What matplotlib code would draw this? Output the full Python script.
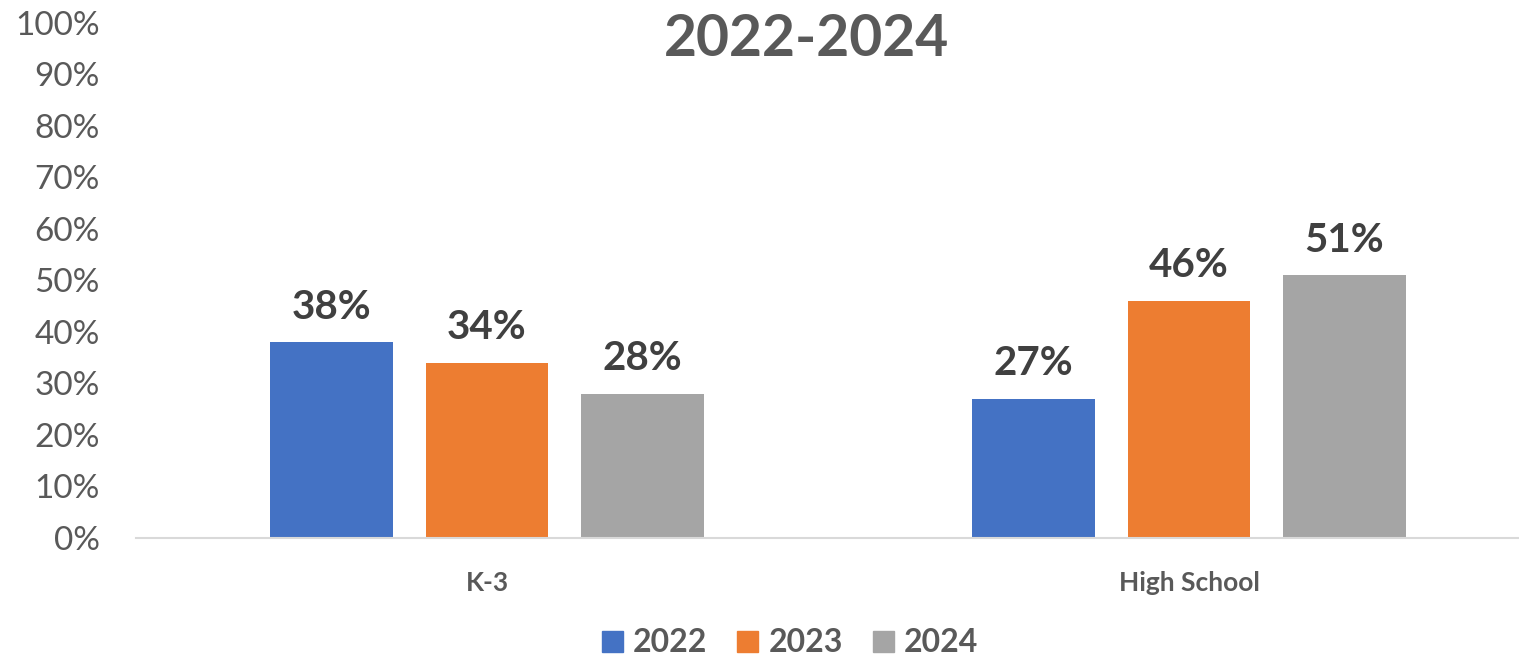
import numpy as np
import matplotlib
matplotlib.use('Agg')
from matplotlib import pyplot as plt
from matplotlib.patches import Patch

# data
categories = ['K-3', 'High School']
years = ['2022', '2023', '2024']
vals_2022 = [0.38, 0.27]
vals_2023 = [0.34, 0.46]
vals_2024 = [0.28, 0.51]
series = [vals_2022, vals_2023, vals_2024]
colors = ['#4472C4', '#ED7D31', '#A5A5A5']

plt.rcParams['font.family'] = ['Lato', 'DejaVu Sans']

fig = plt.figure(figsize=(15.19, 6.58), dpi=100)
ax = fig.add_axes([136/1519, 1 - 538/658, (1519 - 136)/1519, (538 - 23)/658])

x = np.arange(len(categories))
width = 0.174
offset = 0.2215
for i, (vals, c) in enumerate(zip(series, colors)):
    bars = ax.bar(x + (i - 1)*offset, vals, width, color=c, label=years[i])
    for b, v in zip(bars, vals):
        ax.annotate('{:.0%}'.format(v), (b.get_x() + b.get_width()/2, v),
                    xytext=(0, 17), textcoords='offset points',
                    ha='center', va='baseline', fontsize=29,
                    fontweight='bold', color='#404040')

ax.set_xlim(-0.5, -0.5 + 1383/702)
ax.set_ylim(0, 1)
ax.set_yticks(np.arange(0, 1.01, 0.1))
ax.set_yticklabels(['{:.0f}%'.format(t*100) for t in np.arange(0, 1.01, 0.1)])
ax.set_xticks(x)
ax.set_xticklabels(categories, fontweight='bold')
ax.tick_params(axis='y', length=0, pad=26, labelsize=24, labelcolor='#595959')
ax.tick_params(axis='x', length=0, pad=24, labelsize=19, labelcolor='#595959')
for s in ['top', 'right', 'left']:
    ax.spines[s].set_visible(False)
ax.spines['bottom'].set_color('#D9D9D9')
ax.spines['bottom'].set_linewidth(1.5)

fig.text(807/1519, 1 - 40/658, '2022-2024', ha='center', va='center',
         fontsize=41, fontweight='bold', color='#595959')

handles = [Patch(color=c) for c in colors]
fig.legend(handles, years, loc='center', bbox_to_anchor=(790/1519, 1 - 643/658),
           ncol=3, frameon=False, prop={'size': 23, 'weight': 'bold'},
           labelcolor='#595959', handlelength=0.66, handleheight=0.66,
           handletextpad=0.31, columnspacing=0.94)

fig.savefig('out.png', dpi=100)
